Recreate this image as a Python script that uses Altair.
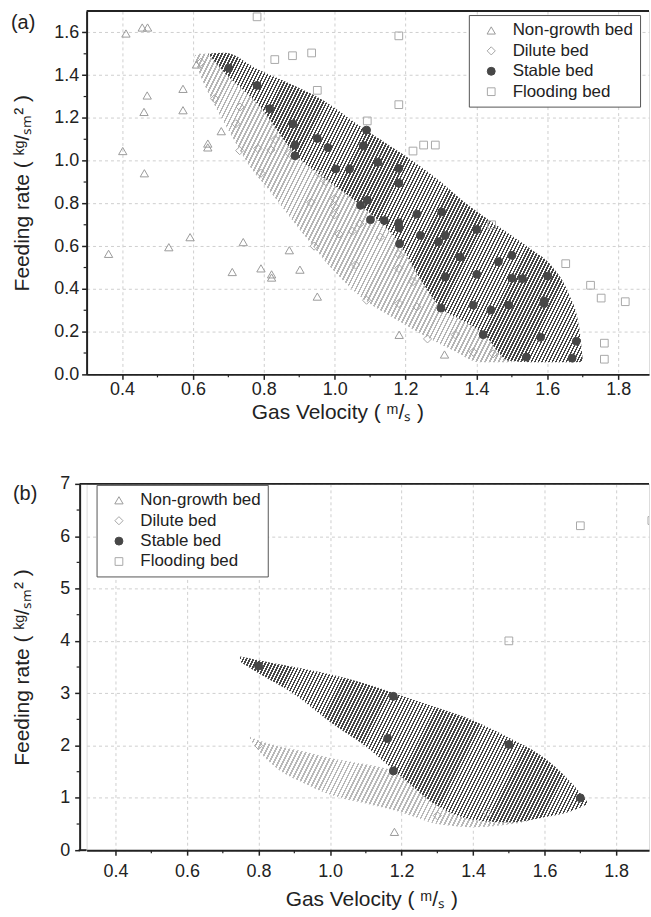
import math
import altair as alt
import pandas as pd

# ---------------- categories / styles ----------------
BEDS = ["Non-growth bed", "Dilute bed", "Stable bed", "Flooding bed"]
SHAPES = ["triangle-up", "diamond", "circle", "square"]
STROKES = ["#9a9a9a", "#a5a5a5", "#474747", "#a8a8a8"]
FILLS = ["transparent", "transparent", "#474747", "transparent"]
SIZES = [70, 60, 75, 45]

# ---------------- panel (a) data ----------------
a_non_x = [0.411, 0.457, 0.472, 0.471, 0.462, 0.572, 0.572, 0.402, 0.463, 0.642, 0.642, 0.680, 0.610,
           0.362, 0.532, 0.592, 0.711, 0.742, 0.792, 0.822, 0.822, 0.872, 0.902, 0.951, 1.182, 1.310]
a_non_y = [1.595, 1.623, 1.623, 1.305, 1.228, 1.336, 1.236, 1.045, 0.941, 1.080, 1.062, 1.138, 1.450,
           0.564, 0.595, 0.642, 0.479, 0.619, 0.496, 0.468, 0.453, 0.581, 0.490, 0.364, 0.185, 0.093]
a_dil_x = [0.622, 0.661, 0.733, 0.721, 0.732, 0.783, 0.792, 0.820, 0.832, 0.872, 0.956, 0.975, 0.933,
           0.942, 1.000, 1.000, 1.000, 1.012, 1.050, 1.071, 1.059, 1.090, 1.129, 1.181, 1.181, 1.181,
           1.221, 1.232, 1.262, 1.340, 1.391, 1.447]
a_dil_y = [1.460, 1.290, 1.251, 1.173, 1.047, 1.057, 0.941, 1.050, 1.099, 1.034, 0.941, 0.902, 0.805,
           0.600, 0.822, 0.786, 0.747, 0.657, 0.670, 0.704, 0.512, 0.347, 0.642, 0.561, 0.496, 0.332,
           0.434, 0.316, 0.166, 0.186, 0.104, 0.096]
a_sta_x = [0.701, 0.781, 0.817, 0.882, 0.888, 0.888, 0.951, 0.981, 1.090, 1.081, 1.003, 1.042, 1.122,
           1.181, 1.181, 1.092, 1.073, 1.101, 1.140, 1.181, 1.182, 1.232, 1.302, 1.242, 1.312, 1.293,
           1.183, 1.401, 1.354, 1.462, 1.500, 1.312, 1.401, 1.500, 1.530, 1.601, 1.300, 1.391, 1.441,
           1.491, 1.591, 1.591, 1.419, 1.581, 1.541, 1.682, 1.670]
a_sta_y = [1.433, 1.352, 1.243, 1.172, 1.073, 1.023, 1.104, 1.061, 1.143, 1.070, 0.961, 0.961, 0.992,
           0.964, 0.894, 0.815, 0.791, 0.724, 0.720, 0.709, 0.685, 0.750, 0.760, 0.650, 0.650, 0.620,
           0.611, 0.678, 0.549, 0.527, 0.557, 0.456, 0.468, 0.450, 0.448, 0.460, 0.310, 0.324, 0.301,
           0.324, 0.344, 0.332, 0.186, 0.174, 0.081, 0.155, 0.076]
a_flo_x = [0.781, 0.831, 0.881, 0.935, 0.951, 1.181, 1.181, 1.092, 1.221, 1.251, 1.284, 1.443, 1.652,
           1.722, 1.752, 1.820, 1.761, 1.761]
a_flo_y = [1.673, 1.473, 1.491, 1.504, 1.329, 1.584, 1.262, 1.186, 1.045, 1.073, 1.073, 0.700, 0.518,
           0.417, 0.357, 0.340, 0.146, 0.071]

# region outlines (a)
a_dark_x = [0.642, 0.69, 0.78, 0.90, 0.96, 1.073, 1.183, 1.24, 1.30, 1.363, 1.42, 1.49, 1.55, 1.616, 1.66, 1.69, 1.70]
a_dark_top = [1.50, 1.505, 1.43, 1.34, 1.29, 1.16, 1.04, 0.975, 0.90, 0.81, 0.74, 0.66, 0.59, 0.50, 0.38, 0.22, 0.07]
a_dark_bot = [1.50, 1.41, 1.27, 1.01, 0.93, 0.79, 0.61, 0.45, 0.31, 0.25, 0.19, 0.065, 0.057, 0.057, 0.057, 0.057, 0.065]
a_light_x = [0.605, 0.614, 0.652, 0.708, 0.764, 0.811, 0.90, 0.989, 1.054, 1.195, 1.335, 1.41, 1.50]
a_light_top = [1.49, 1.50, 1.50, 1.42, 1.34, 1.25, 1.05, 0.95, 0.85, 0.65, 0.35, 0.25, 0.10]
a_light_bot = [1.476, 1.43, 1.29, 1.12, 0.964, 0.87, 0.68, 0.50, 0.39, 0.236, 0.112, 0.057, 0.057]

a_xticks = [0.4, 0.6, 0.8, 1.0, 1.2, 1.4, 1.6, 1.8]
a_yticks = [0.0, 0.2, 0.4, 0.6, 0.8, 1.0, 1.2, 1.4, 1.6]
a_xminor = [0.5, 0.7, 0.9, 1.1, 1.3, 1.5, 1.7]
a_yminor = [0.1, 0.3, 0.5, 0.7, 0.9, 1.1, 1.3, 1.5]

# ---------------- panel (b) data ----------------
b_non_x = [1.18]
b_non_y = [0.35]
b_dil_x = [0.80, 1.30, 1.44]
b_dil_y = [2.00, 0.66, 0.72]
b_sta_x = [0.80, 1.177, 1.161, 1.177, 1.50, 1.70]
b_sta_y = [3.52, 2.94, 2.135, 1.515, 2.02, 1.00]
b_flo_x = [1.70, 1.50, 1.90]
b_flo_y = [6.20, 4.00, 6.30]

b_dark_x = [0.748, 0.80, 0.90, 1.00, 1.10, 1.20, 1.30, 1.40, 1.50, 1.60, 1.68, 1.72]
b_dark_top = [3.70, 3.63, 3.50, 3.36, 3.18, 2.95, 2.72, 2.48, 2.15, 1.76, 1.25, 0.92]
b_dark_bot = [3.60, 3.38, 2.98, 2.45, 1.98, 1.40, 0.85, 0.58, 0.53, 0.63, 0.76, 0.88]
b_light_x = [0.776, 0.80, 0.85, 0.93, 1.00, 1.10, 1.20, 1.30, 1.40, 1.50, 1.56]
b_light_top = [2.17, 2.10, 2.00, 1.88, 1.76, 1.64, 1.48, 1.25, 0.95, 0.75, 0.62]
b_light_bot = [2.12, 1.90, 1.57, 1.27, 1.06, 0.89, 0.72, 0.50, 0.44, 0.49, 0.56]

b_xticks = [0.4, 0.6, 0.8, 1.0, 1.2, 1.4, 1.6, 1.8]
b_yticks = [0, 1, 2, 3, 4, 5, 6, 7]
b_xminor = [0.5, 0.7, 0.9, 1.1, 1.3, 1.5, 1.7]
b_yminor = [0.5, 1.5, 2.5, 3.5, 4.5, 5.5, 6.5]

FONT = "Liberation Sans"
INK = "#222222"
HATCH_ANGLE = math.degrees(math.atan(2.0))


def points_df(nx, ny, dx, dy, sx, sy, fx, fy):
    rows = []
    for bed, xs, ys in zip(BEDS, [nx, dx, sx, fx], [ny, dy, sy, fy]):
        for x, y in zip(xs, ys):
            rows.append({"x": x, "y": y, "bed": bed})
    return pd.DataFrame(rows)


def hatch(color, w_px, h_px, theta=60.0, spacing=3.5, frac=0.5, bg="#ffffff"):
    """Diagonal stripe fill as a linear gradient over the mark's bounding box."""
    t = math.radians(theta)
    a = w_px * math.sin(t)
    b = h_px * math.cos(t)
    k = (a + b) / (a * a + b * b)
    period = spacing * math.sin(t) / (a + b)   # one stripe period in gradient units
    stops = []
    o = 0.0
    while o < 1.0:
        o1 = min(o + frac * period, 1.0)
        o2 = min(o + period, 1.0)
        stops += [{"offset": round(o, 6), "color": color},
                  {"offset": round(o1, 6), "color": color},
                  {"offset": round(o1, 6), "color": bg},
                  {"offset": round(o2, 6), "color": bg}]
        o += period
    return {"gradient": "linear", "x1": 0, "y1": 0, "x2": a * k, "y2": b * k, "stops": stops}


def panel(pts, light, dark, xdom, ydom, W, H, xticks, yticks, xminor, yminor, yfmt,
          label, label_x, label_y, leg_x, leg_y, lab_pad, x_title_x, x_title_y, x_lab_pad, y_title_x,
          light_style, dark_style, y_off=0):
    xs = alt.Scale(domain=xdom, nice=False, zero=False)
    ys = alt.Scale(domain=ydom, nice=False, zero=False)
    kx = W / (xdom[1] - xdom[0])
    ky = H / (ydom[1] - ydom[0])

    xaxis = alt.Axis(values=xticks, format=".1f", title="Gas Velocity ( ᵐ/ₛ )",
                     grid=True, gridDash=[3, 3], gridColor="#cfcfcf", gridWidth=1,
                     tickSize=5, tickWidth=1.5, tickColor=INK, domainWidth=2, domainColor=INK,
                     labelFontSize=18, labelColor=INK, labelPadding=x_lab_pad, labelFont=FONT,
                     titleFontSize=21, titleFontWeight="normal", titleColor=INK, titleFont=FONT,
                     titleX=x_title_x, titleY=x_title_y, titleAlign="center", titleBaseline="top")
    yaxis = alt.Axis(values=yticks, format=yfmt, title="Feeding rate ( ᵏᵍ/ₛₘ² )",
                     grid=True, gridDash=[3, 3], gridColor="#cfcfcf", gridWidth=1, offset=y_off,
                     tickSize=5, tickWidth=1.5, tickColor=INK, domainWidth=2, domainColor=INK,
                     labelFontSize=18, labelColor=INK, labelPadding=lab_pad, labelFont=FONT,
                     titleFontSize=21, titleFontWeight="normal", titleColor=INK, titleFont=FONT,
                     titleX=y_title_x, titleY=H / 2, titleAlign="center", titleBaseline="bottom")

    X = lambda f: alt.X(f, scale=xs, axis=xaxis)
    Y = lambda f: alt.Y(f, scale=ys, axis=yaxis)

    layers = []
    for (rx, rt, rb), style in [(light, light_style), (dark, dark_style)]:
        df = pd.DataFrame({"x": rx, "top": rt, "bot": rb})
        w_px = (max(rx) - min(rx)) * kx
        h_px = (max(rt) - min(rb)) * ky
        grad = hatch(style[0], w_px, h_px, theta=HATCH_ANGLE, spacing=style[1], frac=style[2])
        layers.append(
            alt.Chart(df).mark_area(color=grad, interpolate="monotone").encode(
                x=X("x:Q"), y=Y("top:Q"), y2="bot:Q",
            )
        )

    legend = alt.Legend(title=None, orient="none", legendX=leg_x, legendY=leg_y,
                        strokeColor="#555555", fillColor="white", padding=7, symbolOffset=7,
                        labelFontSize=17, labelFont=FONT, labelColor=INK, labelOffset=13,
                        rowPadding=2.5, symbolStrokeWidth=1)
    layers.append(
        alt.Chart(pts).mark_point(strokeWidth=1, opacity=1, clip=True).encode(
            x=X("x:Q"), y=Y("y:Q"),
            shape=alt.Shape("bed:N", scale=alt.Scale(domain=BEDS, range=SHAPES), legend=legend),
            stroke=alt.Stroke("bed:N", scale=alt.Scale(domain=BEDS, range=STROKES), legend=legend),
            fill=alt.Fill("bed:N", scale=alt.Scale(domain=BEDS, range=FILLS), legend=legend),
            size=alt.Size("bed:N", scale=alt.Scale(domain=BEDS, range=SIZES), legend=legend),
        )
    )

    # minor ticks
    layers.append(
        alt.Chart(pd.DataFrame({"x": xminor})).mark_rule(color=INK, strokeWidth=1.2).encode(
            x=X("x:Q"), y=alt.value(H), y2=alt.value(H + 3))
    )
    layers.append(
        alt.Chart(pd.DataFrame({"y": yminor})).mark_rule(color=INK, strokeWidth=1.2).encode(
            y=Y("y:Q"), x=alt.value(-3 - y_off), x2=alt.value(-y_off))
    )
    # frame lines: top edge, and bottom edge extended to an offset y axis
    frame = pd.DataFrame({"t": [label]})
    layers.append(
        alt.Chart(frame).mark_rule(color=INK, strokeWidth=2).encode(
            x=alt.value(-y_off), x2=alt.value(W), y=alt.value(0))
    )
    if y_off:
        layers.append(
            alt.Chart(frame).mark_rule(color=INK, strokeWidth=2).encode(
                x=alt.value(-y_off - 1), x2=alt.value(0), y=alt.value(H))
        )
    # panel label
    layers.append(
        alt.Chart(frame).mark_text(
            align="left", baseline="middle", fontSize=20, font=FONT, color=INK).encode(
            x=alt.value(label_x), y=alt.value(label_y), text="t:N")
    )
    return alt.layer(*layers).properties(width=W, height=H)


pa = panel(points_df(a_non_x, a_non_y, a_dil_x, a_dil_y, a_sta_x, a_sta_y, a_flo_x, a_flo_y),
           (a_light_x, a_light_top, a_light_bot), (a_dark_x, a_dark_top, a_dark_bot),
           [0.3, 1.887], [0.0, 1.7], 565, 365, a_xticks, a_yticks, a_xminor, a_yminor, ".1f",
           "(a)", -76, 12, 384, 4, 3, 252, 27, 1, -54,
           ("#b5b5b5", 4.5, 0.42), ("#454545", 3.5, 0.5))

pb = panel(points_df(b_non_x, b_non_y, b_dil_x, b_dil_y, b_sta_x, b_sta_y, b_flo_x, b_flo_y),
           (b_light_x, b_light_top, b_light_bot), (b_dark_x, b_dark_top, b_dark_bot),
           [0.319, 1.892], [0, 7], 565, 368, b_xticks, b_yticks, b_xminor, b_yminor, "d",
           "(b)", -74, 10, 10, 1, 5, 286, 39, 7, -47,
           ("#b9b9b9", 4.5, 0.42), ("#464646", 3.5, 0.5), y_off=7)

chart = alt.ConcatChart(concat=[pa, pb], columns=1, spacing=51).resolve_scale(
    shape="independent", stroke="independent", fill="independent", size="independent"
).properties(
    padding={"left": 10, "top": 7, "right": 0, "bottom": 0}
).configure_view(stroke=None).configure(font=FONT)

chart.save("out.html", embed_options={"renderer": "svg", "actions": False})
